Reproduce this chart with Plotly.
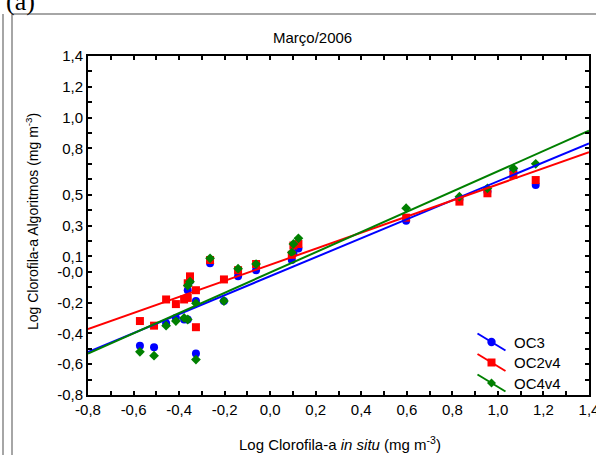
import plotly.graph_objects as go

# ---------------- data ----------------
x_insitu = [-0.572, -0.510, -0.457, -0.414, -0.378, -0.362, -0.362, -0.352, -0.326, -0.326,
            -0.264, -0.203, -0.141, -0.062, 0.095, 0.102, 0.124, 0.597, 0.831, 0.954,
            1.068, 1.166]
oc3 = [-0.48, -0.49, -0.335, -0.30, -0.31, -0.31, -0.12, -0.06, -0.19, -0.53,
       0.055, -0.19, -0.03, 0.01, 0.076, 0.12, 0.15, 0.331, 0.47, 0.52,
       0.66, 0.563]
oc2v4 = [-0.32, -0.35, -0.18, -0.21, -0.18, -0.17, -0.075, -0.03, -0.12, -0.36,
         0.076, -0.05, 0.01, 0.05, 0.11, 0.17, 0.18, 0.351, 0.455, 0.509,
         0.628, 0.595]
oc4v4 = [-0.52, -0.545, -0.35, -0.32, -0.30, -0.31, -0.09, -0.065, -0.205, -0.57,
         0.087, -0.19, 0.02, 0.05, 0.124, 0.18, 0.217, 0.412, 0.487, 0.541,
         0.671, 0.70]

series_names = ["OC3", "OC2v4", "OC4v4"]
fit_slope = [0.616, 0.522, 0.657]
fit_intercept = [-0.029, 0.045, -0.005]

x_range = [-0.8, 1.4]
y_range = [-0.8, 1.4]
y_tickvals = [1.4, 1.2, 1.0, 0.8, 0.5, 0.3, 0.1, 0.0, -0.2, -0.4, -0.6, -0.8]
y_ticktext = ["1,4", "1,2", "1,0", "0,8", "0,5", "0,3", "0,1", "-0,0", "-0,2", "-0,4", "-0,6", "-0,8"]
x_tickvals = [-0.8, -0.6, -0.4, -0.2, 0.0, 0.2, 0.4, 0.6, 0.8, 1.0, 1.2, 1.4]
x_ticktext = ["-0,8", "-0,6", "-0,4", "-0,2", "0,0", "0,2", "0,4", "0,6", "0,8", "1,0", "1,2", "1,4"]

# ---------------- styling ----------------
colors = ["#0000FF", "#FF0000", "#008000"]
symbols = ["circle", "square", "diamond"]
msizes = [8, 8, 7.5]
FONT = "Liberation Sans, Arial, sans-serif"

W, H = 596, 455
L, R, T, B = 88, 7, 56, 60
PW, PH = W - L - R, H - T - B


def px(xp):
    return (xp - L) / PW


def py(yp):
    return (H - B - yp) / PH


fig = go.Figure()
ys = [oc3, oc2v4, oc4v4]
for i in range(3):
    fig.add_trace(go.Scatter(
        x=x_insitu, y=ys[i], mode="markers", name=series_names[i], showlegend=False,
        marker=dict(color=colors[i], symbol=symbols[i], size=msizes[i], line=dict(width=0)),
    ))
for i in range(3):
    fx = x_range
    fy = [fit_slope[i] * v + fit_intercept[i] for v in fx]
    fig.add_trace(go.Scatter(
        x=fx, y=fy, mode="lines", showlegend=False,
        line=dict(color=colors[i], width=2),
    ))

axis_common = dict(
    showgrid=False, zeroline=False, showline=True, linecolor="black", linewidth=2,
    mirror="allticks", ticks="inside", ticklen=4, tickwidth=1.5, tickcolor="black",
    tickfont=dict(family=FONT, size=15, color="black"), ticklabeloverflow="allow",
    automargin=False,
    minor=dict(ticks="inside", ticklen=4, tickwidth=1.5, tickcolor="black", dtick=0.1, tick0=-0.8),
)

fig.update_xaxes(range=x_range, tickmode="array", tickvals=x_tickvals, ticktext=x_ticktext,
                 **axis_common)
fig.update_yaxes(range=y_range, tickmode="array", tickvals=y_tickvals, ticktext=y_ticktext,
                 **axis_common)

# custom legend (diagonal line glyphs like the reference)
leg_rows_y = [342, 362.5, 383]
shapes = [
    dict(type="line", xref="paper", yref="paper", x0=px(12), x1=px(W + 2), y0=py(14), y1=py(14),
         line=dict(color="#888888", width=1.5)),
    dict(type="line", xref="paper", yref="paper", x0=px(3), x1=px(3), y0=py(14), y1=py(H + 2),
         line=dict(color="#888888", width=1.5)),
    dict(type="line", xref="paper", yref="paper", x0=px(12), x1=px(12), y0=py(14), y1=py(H + 2),
         line=dict(color="#888888", width=1.5)),
]
annotations = [
    dict(text="Março/2006", x=px(312), y=py(37), xref="paper", yref="paper",
         showarrow=False, xanchor="center", yanchor="middle",
         font=dict(family=FONT, size=15, color="black")),
    dict(text="Log Clorofila-a <i>in situ</i> (mg m<sup>-3</sup>)", x=px(340), y=py(443),
         xref="paper", yref="paper", showarrow=False, xanchor="center", yanchor="middle",
         font=dict(family=FONT, size=15, color="black")),
    dict(text="Log Clorofila-a Algoritmos (mg m<sup>-3</sup>)", x=px(32), y=py(222),
         xref="paper", yref="paper", showarrow=False, xanchor="center", yanchor="middle",
         textangle=-90, font=dict(family=FONT, size=14, color="black")),
    dict(text="(a)", x=px(20), y=py(2), xref="paper", yref="paper", showarrow=False,
         xanchor="center", yanchor="middle",
         font=dict(family="Liberation Serif, Times New Roman, serif", size=26, color="black")),
]
for i in range(3):
    cy = py(leg_rows_y[i])
    cx = px(491.5)
    shapes.append(dict(type="line", xref="paper", yref="paper", xsizemode="pixel", ysizemode="pixel",
                       xanchor=cx, yanchor=cy, x0=-14, x1=14, y0=8.5, y1=-8.5,
                       line=dict(color=colors[i], width=2)))
    if symbols[i] == "circle":
        shapes.append(dict(type="circle", xref="paper", yref="paper", xsizemode="pixel", ysizemode="pixel",
                           xanchor=cx, yanchor=cy, x0=-4.2, x1=4.2, y0=-4.2, y1=4.2,
                           fillcolor=colors[i], line=dict(width=0)))
    elif symbols[i] == "square":
        shapes.append(dict(type="rect", xref="paper", yref="paper", xsizemode="pixel", ysizemode="pixel",
                           xanchor=cx, yanchor=cy, x0=-4, x1=4, y0=-4, y1=4,
                           fillcolor=colors[i], line=dict(width=0)))
    else:
        shapes.append(dict(type="path", xref="paper", yref="paper", xsizemode="pixel", ysizemode="pixel",
                           xanchor=cx, yanchor=cy, path="M0,-4.5 L4.5,0 L0,4.5 L-4.5,0 Z",
                           fillcolor=colors[i], line=dict(width=0)))
    annotations.append(dict(text=series_names[i], x=px(512), y=cy, xref="paper", yref="paper",
                            showarrow=False, xanchor="left", yanchor="middle",
                            font=dict(family=FONT, size=15, color="black")))

fig.update_layout(
    width=W, height=H,
    margin=dict(l=L, r=R, t=T, b=B, pad=0),
    paper_bgcolor="white", plot_bgcolor="white",
    font=dict(family=FONT, size=15, color="black"),
    showlegend=False,
    annotations=annotations,
    shapes=shapes,
)

fig.write_html("out.html", config={"displayModeBar": False},
               post_script="document.body.style.margin='0';")
